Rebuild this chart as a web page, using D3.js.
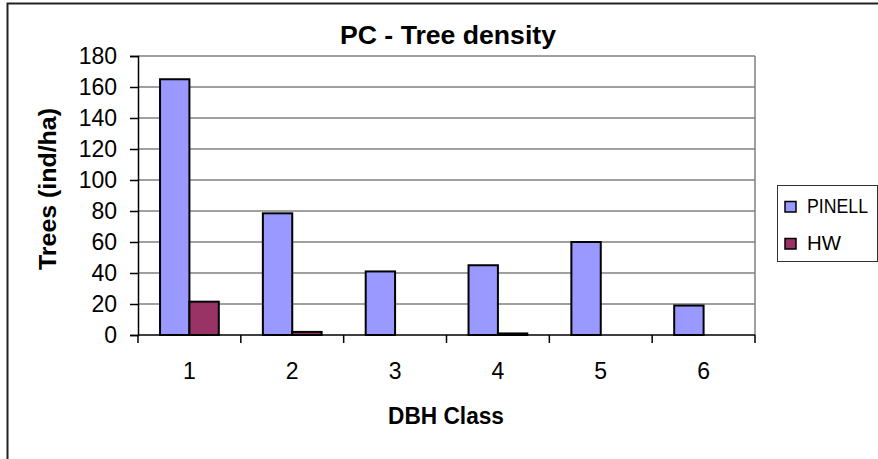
<!DOCTYPE html>
<html>
<head>
<meta charset="utf-8">
<script src="https://cdn.jsdelivr.net/npm/d3@7"></script>
<style>
  html, body { margin: 0; padding: 0; background: #fff; }
  svg { display: block; }
  text { font-family: "Liberation Sans", Arial, sans-serif; fill: #000; }
</style>
</head>
<body>
<svg id="chart" width="878" height="459"></svg>
<script>
// ---- data ----
const categories = ["1", "2", "3", "4", "5", "6"];
const seriesNames = ["PINELL", "HW"];
const pinell = [165, 78.5, 41, 45, 60, 19];
const hw = [21.5, 2, 0, 1, 0, 0];
const yTicks = [0, 20, 40, 60, 80, 100, 120, 140, 160, 180];
const colors = ["#9999FF", "#993366"];
const title = "PC - Tree density";
const xTitle = "DBH Class";
const yTitle = "Trees (ind/ha)";

const values = [pinell, hw];

const svg = d3.select("#chart");

// outer chart frame
svg.append("rect")
  .attr("x", 7.5).attr("y", 3.5)
  .attr("width", 900).attr("height", 500)
  .attr("fill", "none").attr("stroke", "#222").attr("stroke-width", 2);

const plot = { left: 138, right: 755, top: 56, bottom: 335 };

const x = d3.scaleBand().domain(categories).range([plot.left, plot.right]).padding(0);
const xs = d3.scaleBand().domain(seriesNames).range([0, x.bandwidth()])
  .paddingInner(0).paddingOuter(0.75);
const y = d3.scaleLinear().domain([0, 180]).range([plot.bottom, plot.top]);

// gridlines
svg.append("g").selectAll("line").data(yTicks.filter(d => d > 0)).join("line")
  .attr("x1", plot.left).attr("x2", plot.right)
  .attr("y1", d => y(d)).attr("y2", d => y(d))
  .attr("stroke", "#808080").attr("stroke-width", 1.5);

// right plot border
svg.append("line")
  .attr("x1", plot.right).attr("x2", plot.right)
  .attr("y1", plot.top).attr("y2", plot.bottom)
  .attr("stroke", "#808080").attr("stroke-width", 1.5);

// bars
seriesNames.forEach((s, si) => {
  svg.append("g").selectAll("rect").data(categories).join("rect")
    .attr("x", c => x(c) + xs(s))
    .attr("width", xs.bandwidth())
    .attr("y", (c, i) => y(values[si][i]))
    .attr("height", (c, i) => y(0) - y(values[si][i]))
    .attr("fill", colors[si])
    .attr("stroke", "#000").attr("stroke-width", 2);
});

// y axis
const yAxis = svg.append("g")
  .attr("transform", `translate(${plot.left},0)`)
  .call(d3.axisLeft(y).tickValues(yTicks).tickSize(8).tickPadding(13));
yAxis.select(".domain").attr("stroke", "#000").attr("stroke-width", 1.5);
yAxis.selectAll(".tick line").attr("stroke", "#000").attr("stroke-width", 1.5);
yAxis.selectAll(".tick text")
  .attr("font-size", 23).attr("font-family", "Liberation Sans, Arial, sans-serif")
  .attr("fill", "#000");

// x axis (ticks at band boundaries)
const xAxisG = svg.append("g").attr("transform", `translate(0,${plot.bottom})`);
xAxisG.append("line")
  .attr("x1", plot.left).attr("x2", plot.right)
  .attr("y1", 0).attr("y2", 0)
  .attr("stroke", "#000").attr("stroke-width", 1.5);
const boundaries = categories.map(c => x(c)).concat([x(categories[categories.length - 1]) + x.bandwidth()]);
xAxisG.selectAll("line.tk").data(boundaries).join("line").attr("class", "tk")
  .attr("x1", d => d).attr("x2", d => d).attr("y1", 0).attr("y2", 8)
  .attr("stroke", "#000").attr("stroke-width", 1.5);
xAxisG.selectAll("text").data(categories).join("text")
  .attr("x", c => x(c) + x.bandwidth() / 2)
  .attr("y", 44)
  .attr("text-anchor", "middle")
  .attr("font-size", 23)
  .text(c => c);

// titles
svg.append("text")
  .attr("x", 448).attr("y", 44)
  .attr("text-anchor", "middle")
  .attr("font-size", 25).attr("font-weight", "bold")
  .attr("textLength", 216).attr("lengthAdjust", "spacingAndGlyphs")
  .text(title);

svg.append("text")
  .attr("x", 446).attr("y", 424)
  .attr("text-anchor", "middle")
  .attr("font-size", 23).attr("font-weight", "bold")
  .attr("textLength", 116).attr("lengthAdjust", "spacingAndGlyphs")
  .text(xTitle);

svg.append("text")
  .attr("transform", "translate(56,189) rotate(-90)")
  .attr("text-anchor", "middle")
  .attr("font-size", 23).attr("font-weight", "bold")
  .attr("textLength", 162).attr("lengthAdjust", "spacingAndGlyphs")
  .text(yTitle);

// legend
const lg = svg.append("g");
lg.append("rect")
  .attr("x", 777.5).attr("y", 185.5)
  .attr("width", 100).attr("height", 76)
  .attr("fill", "#fff").attr("stroke", "#333").attr("stroke-width", 1);
const legendLens = [61, 34];
seriesNames.forEach((s, i) => {
  const cy = 206.5 + i * 37;
  lg.append("rect")
    .attr("x", 785).attr("y", cy - 5)
    .attr("width", 11).attr("height", 10.5)
    .attr("fill", colors[i]).attr("stroke", "#000").attr("stroke-width", 1.5);
  lg.append("text")
    .attr("x", 807).attr("y", cy + 6)
    .attr("font-size", 20)
    .attr("textLength", legendLens[i]).attr("lengthAdjust", "spacingAndGlyphs")
    .text(s);
});
</script>
</body>
</html>
